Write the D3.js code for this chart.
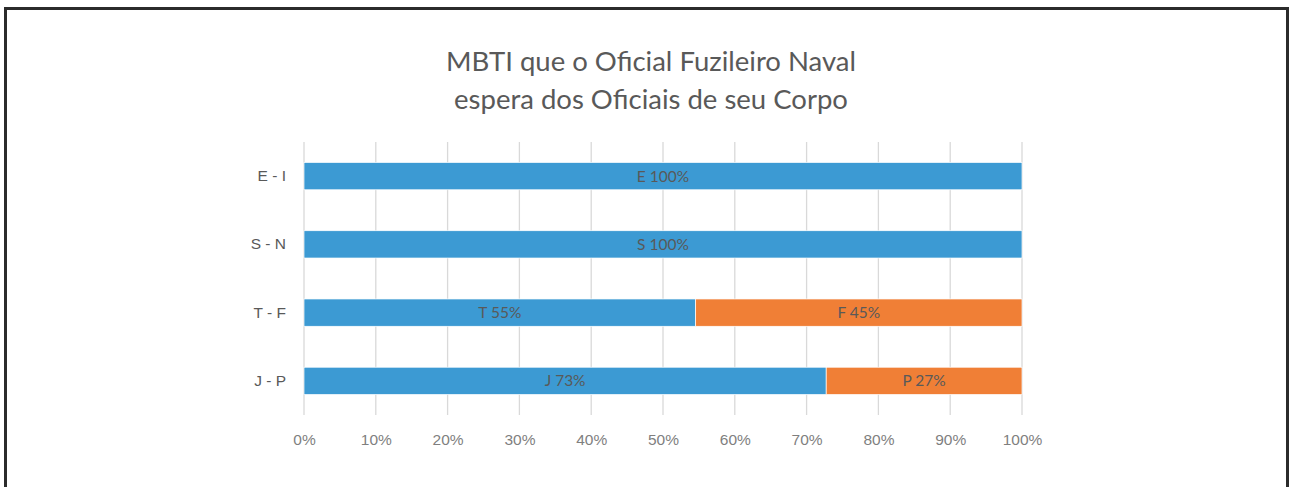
<!DOCTYPE html>
<html>
<head>
<meta charset="utf-8">
<script src="https://cdn.jsdelivr.net/npm/d3@7"></script>
<style>
  html, body { margin: 0; padding: 0; background: #fff; }
  svg { display: block; font-family: Lato, "Open Sans", sans-serif; }
  .grid line { stroke: #d9d9d9; stroke-width: 1.3; }
  .axis text { fill: #7f7f7f; font-size: 15.5px; }
  .cat text { fill: #595959; font-size: 15.5px; }
  .seglabel { fill: #595959; font-size: 15.5px; }
</style>
</head>
<body>
<svg id="chart" width="1290" height="487"></svg>
<script>
// data
const categories = ["E - I", "S - N", "T - F", "J - P"];
const firstLetters = ["E", "S", "T", "J"];
const secondLetters = ["I", "N", "F", "P"];
const firstValues = [100, 100, 54.55, 72.73];
const secondValues = [0, 0, 45.45, 27.27];
const tickValues = [0, 10, 20, 30, 40, 50, 60, 70, 80, 90, 100];
const titleLines = ["MBTI que o Oficial Fuzileiro Naval", "espera dos Oficiais de seu Corpo"];

const colors = ["#3c9ad3", "#f07f36"];
const margin = {top: 142, right: 268, bottom: 72, left: 304};
const W = 1290, H = 487;
const width = W - margin.left - margin.right;
const height = H - margin.top - margin.bottom;

const svg = d3.select('#chart');

// frame
svg.append('rect')
	.attr('x', 5.5).attr('y', 8.5)
	.attr('width', 1282).attr('height', 500)
	.attr('fill', 'none').attr('stroke', '#2b2b2b').attr('stroke-width', 3);

// title
svg.append('g').selectAll('text').data(titleLines).enter().append('text')
	.attr('x', 651)
	.attr('y', function(d, i){ return 71 + i * 38; })
	.attr('text-anchor', 'middle')
	.attr('fill', '#595959')
	.style('font-size', '27.5px')
	.text(function(d){ return d; });

const g = svg.append('g').attr('transform', 'translate(' + margin.left + ',' + margin.top + ')');

const x = d3.scaleLinear().domain([0, 100]).range([0, width]);
const y = d3.scaleBand().domain(categories).range([0, height]).paddingInner(0.6).paddingOuter(0.3);

// gridlines
g.append('g').attr('class', 'grid')
	.selectAll('line').data(tickValues).enter().append('line')
	.attr('x1', function(d){ return x(d); })
	.attr('x2', function(d){ return x(d); })
	.attr('y1', 0).attr('y2', height);

// x axis
const xAxis = d3.axisBottom(x).tickValues(tickValues).tickSize(0).tickPadding(0)
	.tickFormat(function(d){ return d + '%'; });
const axisG = g.append('g').attr('class', 'axis')
	.attr('transform', 'translate(0,' + (height + 19) + ')')
	.call(xAxis);
axisG.select('.domain').remove();

// category axis
const yAxis = d3.axisLeft(y).tickSize(0).tickPadding(18);
const catG = g.append('g').attr('class', 'cat').call(yAxis);
catG.select('.domain').remove();

// stacked bars
const rows = categories.map(function(c, i){
	return {cat: c, segs: [
		{x0: 0, x1: firstValues[i], v: firstValues[i], label: firstLetters[i], k: 0},
		{x0: firstValues[i], x1: firstValues[i] + secondValues[i], v: secondValues[i], label: secondLetters[i], k: 1}
	].filter(function(s){ return s.v > 0; })};
});

const bar = g.selectAll('g.bar').data(rows).enter().append('g').attr('class', 'bar')
	.attr('transform', function(d){ return 'translate(0,' + y(d.cat) + ')'; });

bar.selectAll('rect').data(function(d){ return d.segs; }).enter().append('rect')
	.attr('x', function(d){ return x(d.x0); })
	.attr('width', function(d){ return x(d.x1) - x(d.x0); })
	.attr('height', y.bandwidth())
	.attr('fill', function(d){ return colors[d.k]; })
	.attr('stroke', '#fff').attr('stroke-width', 0.7);

bar.selectAll('text').data(function(d){ return d.segs; }).enter().append('text')
	.attr('class', 'seglabel')
	.attr('x', function(d){ return (x(d.x0) + x(d.x1)) / 2; })
	.attr('y', y.bandwidth() / 2)
	.attr('dy', '0.35em')
	.attr('text-anchor', 'middle')
	.text(function(d){ return d.label + ' ' + Math.round(d.v) + '%'; });
</script>
</body>
</html>
